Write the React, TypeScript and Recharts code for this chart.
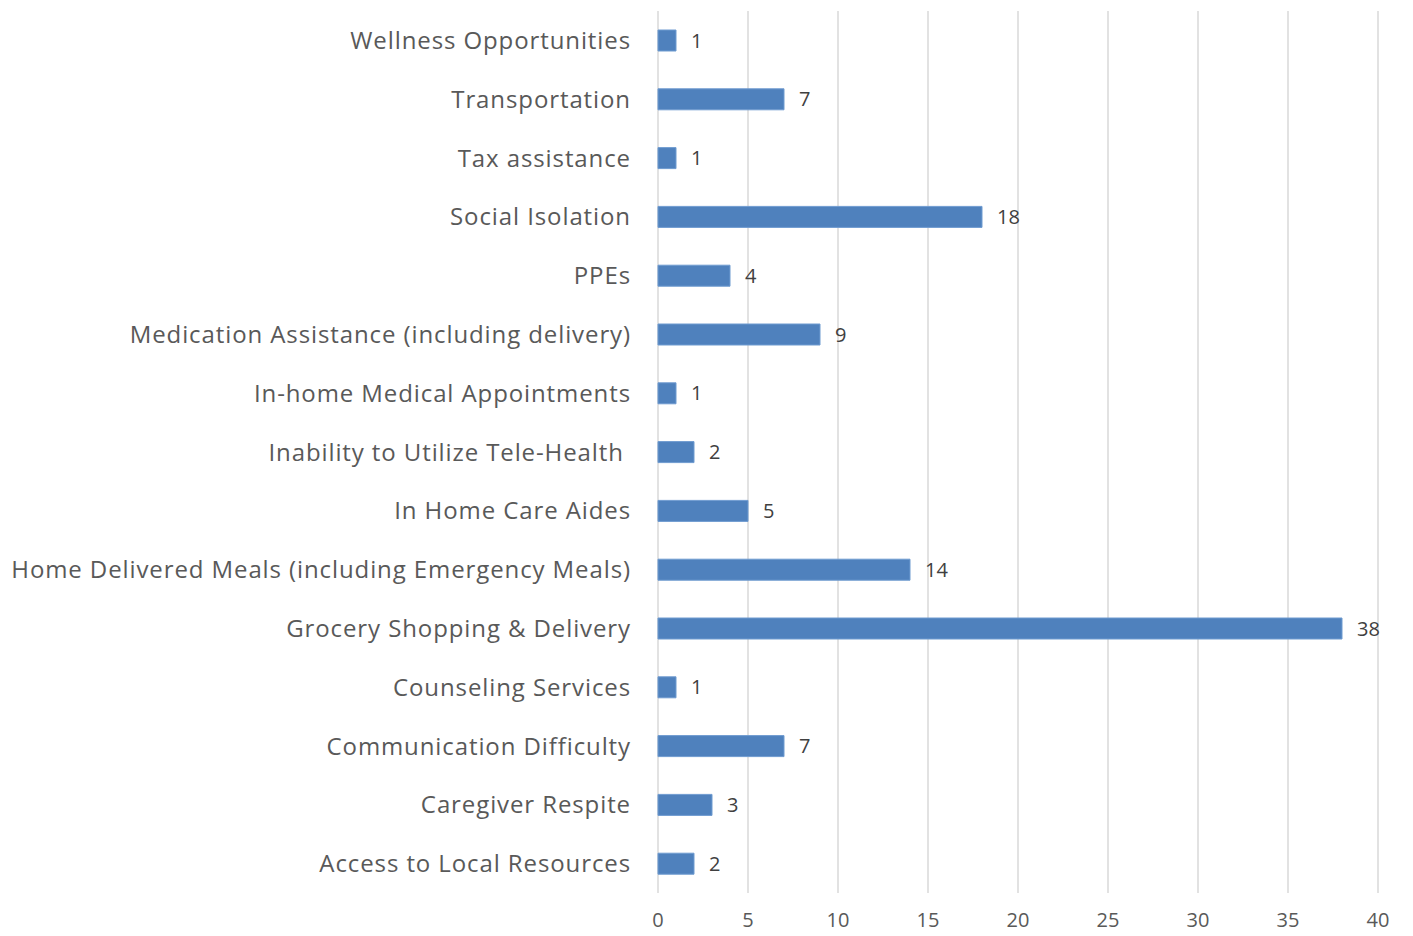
import { BarChart, Bar, XAxis, YAxis, CartesianGrid, LabelList } from "recharts";

// top to bottom as shown
const categories = [
  "Wellness Opportunities",
  "Transportation",
  "Tax assistance",
  "Social Isolation",
  "PPEs",
  "Medication Assistance (including delivery)",
  "In-home Medical Appointments",
  "Inability to Utilize Tele-Health\u00a0",
  "In Home Care Aides",
  "Home Delivered Meals (including Emergency Meals)",
  "Grocery Shopping & Delivery",
  "Counseling Services",
  "Communication Difficulty",
  "Caregiver Respite",
  "Access to Local Resources",
];

const counts = [1, 7, 1, 18, 4, 9, 1, 2, 5, 14, 38, 1, 7, 3, 2];

const xTicks = [0, 5, 10, 15, 20, 25, 30, 35, 40];

const data = categories.map((name, i) => ({ name, value: counts[i] }));

const font = "'Open Sans', 'Noto Sans', sans-serif";

export default function App() {
  return (
    <div style={{ position: "absolute", left: 0, top: 0, background: "#fff" }}>
      <BarChart
        width={1413}
        height={936}
        data={data}
        layout="vertical"
        margin={{ top: 11, right: 35, bottom: 0, left: 0 }}
        barSize={21}
      >
        <CartesianGrid horizontal={false} stroke="#d9d9d9" strokeWidth={1.5} />
        <XAxis
          type="number"
          domain={[0, 40]}
          ticks={xTicks}
          height={43}
          axisLine={false}
          tickLine={false}
          tickMargin={14}
          tick={{ fontSize: 20, fill: "#595959", fontFamily: font }}
        />
        <YAxis
          type="category"
          dataKey="name"
          width={658}
          axisLine={false}
          tickLine={false}
          tickMargin={21}
          interval={0}
          tick={{ fontSize: 24, fill: "#595959", fontFamily: font, letterSpacing: 0.9 }}
        />
        <Bar dataKey="value" fill="#4f81bd" stroke="#6f9bd0" strokeWidth={1} isAnimationActive={false}>
          <LabelList
            dataKey="value"
            position="right"
            offset={15}
            style={{ fontSize: 20, fill: "#404040", fontFamily: font }}
          />
        </Bar>
      </BarChart>
    </div>
  );
}
